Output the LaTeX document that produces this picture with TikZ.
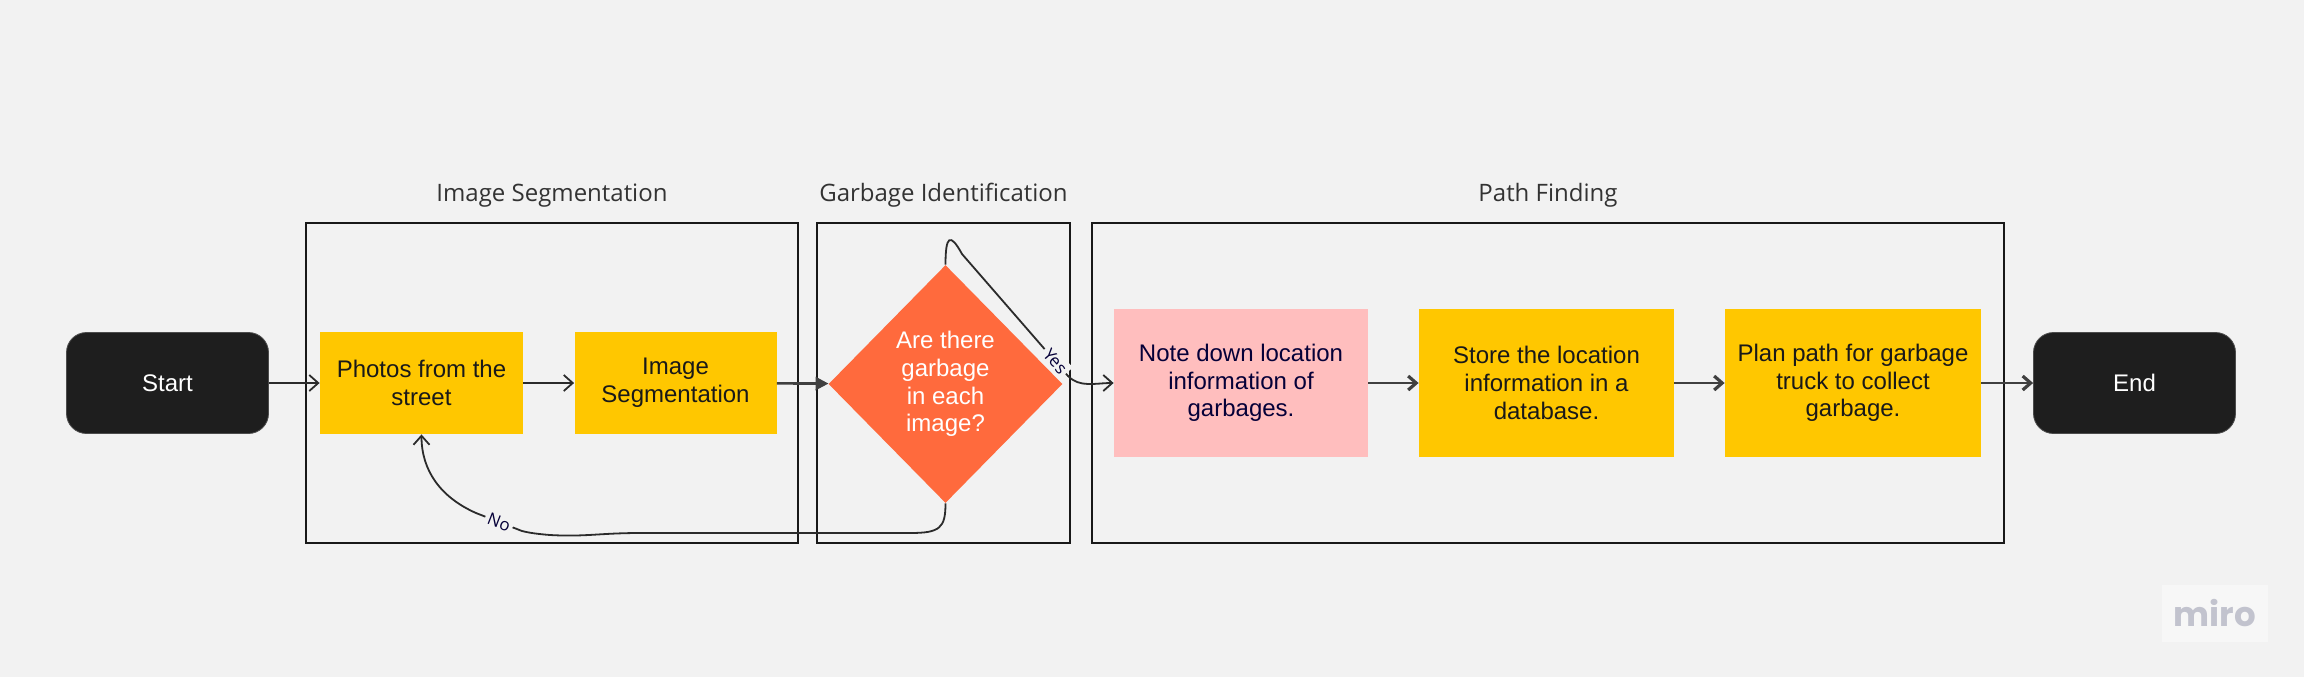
\documentclass[tikz,border=0pt]{standalone}
\usepackage{fontspec}
\setmainfont{Liberation Sans}
\newfontfamily\titlefont{Open Sans}
\newfontfamily\logofont{Poppins}
\usetikzlibrary{positioning,shapes.geometric,arrows.meta}

\definecolor{canvas}{HTML}{F2F2F2}
\definecolor{stickyyellow}{HTML}{FFC700}
\definecolor{decisionorange}{HTML}{FF6A3D}
\definecolor{notepink}{HTML}{FFBEBE}
\definecolor{endfill}{HTML}{1E1E1E}
\definecolor{inkblue}{HTML}{050038}
\definecolor{wire}{HTML}{2B2B2B}
\definecolor{logogray}{HTML}{C2C3CE}

\begin{document}
\begin{tikzpicture}[x=0.5pt, y=-0.5pt,
    boxtext/.style={font=\fontsize{12}{13.8}\selectfont, align=center},
    endpoint/.style={boxtext, rectangle, rounded corners=10pt, fill=endfill, draw=black!70, line width=0.4pt,
      text=white, minimum width=101pt, minimum height=50.5pt},
    sticky/.style={boxtext, rectangle, fill=stickyyellow, text=black!90, inner sep=0pt},
    decision/.style={boxtext, diamond, aspect=1, fill=decisionorange, text=white, inner sep=0pt,
      minimum width=117pt, minimum height=119pt},
    frame/.style={rectangle, draw=black!90, line width=1pt, inner sep=0pt, minimum height=160pt},
    title/.style={font=\titlefont\fontsize{12}{14}\selectfont, text=black!80, inner sep=0pt},
    answer/.style={font=\titlefont\fontsize{8.5}{10}\selectfont, text=inkblue, fill=canvas, inner sep=1.5pt},
    thinwire/.style={draw=wire, line width=0.9pt, -{Straight Barb[length=4.5pt, width=8pt]}},
    heavywire/.style={draw=wire!90, line width=1.1pt, -{Straight Barb[length=4pt, width=7pt, line width=1.6pt]}},
    feedwire/.style={draw=wire!90, line width=1.3pt, -{Triangle[length=6.5pt, width=6.5pt]}}
  ]
  % Background and page size
  \fill[canvas] (0,0) rectangle (2304,677);
  \useasboundingbox (0,0) rectangle (2304,677);

  % Stage frames
  \node[frame, minimum width=246pt] (segframe) at (552,383) {};
  \node[frame, minimum width=126.5pt] (identframe) at (943.5,383) {};
  \node[frame, minimum width=456pt] (pathframe) at (1548,383) {};

  % Stage titles
  \node[title, above=7pt of segframe] (segtitle) {Image Segmentation};
  \node[title, above=7pt of identframe] (identtitle) {Garbage Identification};
  \node[title, above=7pt of pathframe] (pathtitle) {Path Finding};

  % Start and end
  \node[endpoint] (start) at (167.5,383) {Start};
  \node[endpoint] (end) at (2134.5,383) {End};

  % Image segmentation steps
  \node[sticky, minimum width=101.5pt, minimum height=51pt] (photos) at (421.5,383) {Photos from the\\street};
  \node[sticky, minimum width=101pt, minimum height=51pt] (segment) at (675.5,383) {Image\\Segmentation};

  % Decision
  \node[decision] (ident) at (945.5,384) {Are there\\garbage\\in each\\image?};

  % Path finding steps
  \node[sticky, fill=notepink, text=inkblue, minimum width=127pt, minimum height=74pt] (note) at (1241,383) {Note down location\\information of\\garbages.};
  \node[sticky, minimum width=127.5pt, minimum height=74pt] (store) at (1546.5,383) {Store the location\\information in a\\database.};
  \node[sticky, minimum width=128pt, minimum height=74pt] (plan) at (1853,383) {Plan path for garbage\\truck to collect\\garbage.};

  % Main flow
  \draw[thinwire] (start) -- (photos);
  \draw[thinwire] (photos) -- (segment);
  \draw[feedwire] (segment) -- (ident);
  \foreach \a/\b in {note/store, store/plan, plan/end} {
    \draw[heavywire] (\a) -- (\b);
  }

  % Yes branch
  \draw[thinwire] (ident.north) .. controls (945.5,236) and (950,232) .. (962,254)
    -- node[pos=0.88, sloped, answer] {Yes} (1068,376)
    .. controls (1080,388) and (1095,383) .. (note.west);

  % No branch back to the photos
  \draw[thinwire] (ident.south) .. controls (945.5,528) and (940,533) .. (910,533)
    -- (640,533) .. controls (600,533) and (585,537) .. (550,535)
    .. controls (538,534) and (530,533) .. (522,531)
    -- node[sloped, answer] {No} (476,513)
    .. controls (440,497) and (421.5,470) .. (photos.south);

  % Watermark
  \node[fill=white!40!canvas, minimum width=53pt, minimum height=28.5pt, text=logogray,
    font=\logofont\bfseries\fontsize{17}{18}\selectfont] (miro) at (2215,613) {miro};
\end{tikzpicture}
\end{document}
